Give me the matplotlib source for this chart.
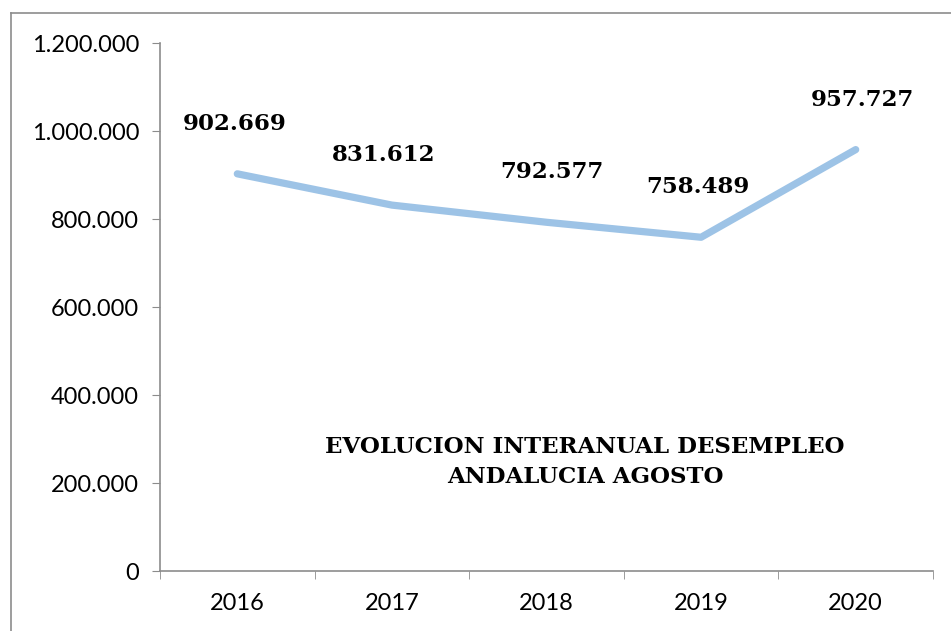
import matplotlib
matplotlib.use("Agg")
import matplotlib.pyplot as plt
from matplotlib.lines import Line2D

years = ["2016", "2017", "2018", "2019", "2020"]
values = [902669, 831612, 792577, 758489, 957727]
value_labels = ["902.669", "831.612", "792.577", "758.489", "957.727"]
yticks = [0, 200000, 400000, 600000, 800000, 1000000, 1200000]
ytick_labels = ["0", "200.000", "400.000", "600.000", "800.000", "1.000.000", "1.200.000"]
title = "EVOLUCION INTERANUAL DESEMPLEO\nANDALUCIA AGOSTO"

W, H = 951, 631
fig = plt.figure(figsize=(W / 100, H / 100), dpi=100)
fig.patch.set_facecolor("white")

# outer chart border (left and top visible)
fig.add_artist(Line2D([11 / W, 11 / W], [0, 1 - 13 / H], transform=fig.transFigure, color="#8c8c8c", lw=1.2))
fig.add_artist(Line2D([11 / W, 1], [1 - 13 / H, 1 - 13 / H], transform=fig.transFigure, color="#8c8c8c", lw=1.2))

ax = fig.add_axes([160 / W, 60 / H, 773 / W, 528 / H])
x = list(range(len(years)))
ax.plot(x, values, color="#9dc3e6", lw=5.2, solid_capstyle="round", solid_joinstyle="round")
ax.set_xlim(-0.5, len(years) - 0.5)
ax.set_ylim(0, 1200000)

ax.set_yticks(yticks)
ax.set_yticklabels(ytick_labels, fontfamily="Lato", fontsize=17)
ax.set_xticks(x)
ax.set_xticklabels(years, fontfamily="Lato", fontsize=17)
ax.set_xticks([i - 0.5 for i in range(len(years) + 1)], minor=True)
ax.tick_params(axis="x", which="major", length=0, pad=16)
ax.tick_params(axis="x", which="minor", length=6, color="#8c8c8c", direction="out")
ax.tick_params(axis="y", length=6, color="#8c8c8c", direction="out", pad=9)

for s in ["top", "right"]:
    ax.spines[s].set_visible(False)
for s in ["left", "bottom"]:
    ax.spines[s].set_color("#8c8c8c")
    ax.spines[s].set_linewidth(1.2)

offsets = [-2, -6, 4, -2, 5]
for i, (v, lab) in enumerate(zip(values, value_labels)):
    ax.annotate(lab, (i, v), xytext=(offsets[i], 28), textcoords="offset points",
                ha="center", va="bottom", fontfamily="DejaVu Serif", fontweight="bold",
                fontsize=16.5, color="black")

ax.text(585 / W, 1 - 462 / H, title, transform=fig.transFigure, ha="center", va="center",
        fontfamily="DejaVu Serif", fontweight="bold", fontsize=16.5, linespacing=1.45)

fig.savefig("out.png", dpi=100, facecolor="white")
